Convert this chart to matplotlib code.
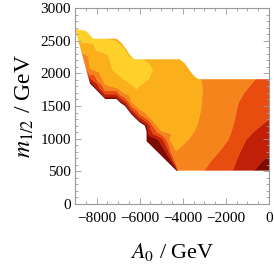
import numpy as np
import matplotlib
matplotlib.use("Agg")
import matplotlib.pyplot as plt
import matplotlib.tri as mtri
from matplotlib.path import Path
from matplotlib.patches import PathPatch
from matplotlib.ticker import MultipleLocator, FuncFormatter

plt.rcParams['mathtext.fontset'] = 'stix'
plt.rcParams['font.family'] = 'serif'
plt.rcParams['font.serif'] = ['Liberation Serif', 'DejaVu Serif']

# ---- region boundary (A0, m1/2) ----
top_x = [-9000, -8490, -8150, -7600, -7070, -6840, -6610, -6450, -6250, -6000, -5840, -5200, -4150, -3900, -3650, -3450, -3250]
top_y = [2680, 2650, 2530, 2530, 2530, 2464, 2362, 2280, 2215, 2215, 2215, 2215, 2215, 2150, 2030, 1950, 1910]
top_v = [5.5, 5.5, 5.45, 5.0, 4.7, 4.7, 4.75, 4.85, 5.05, 5.3, 5.0, 4.7, 4.4, 4.3, 4.2, 4.1, 4.05]

low_x = [-9000, -8300, -7600, -7070, -6900, -6680, -6380, -6000, -5760, -5680, -5680, -5000, -4300]
low_y = [2075, 1841, 1607, 1607, 1550, 1500, 1370, 1250, 1200, 1110, 960, 738, 510]
low_v = [0.2] * len(low_x)

# ---- field samples near the lower edge (level lines 1..4) ----
l1_x = [-9000, -8300, -7600, -7070, -6900, -6680, -6380, -6000, -5760, -5620, -5560, -5141, -4780, -4522, -4260]
l1_y = [2125, 1881, 1637, 1637, 1580, 1530, 1400, 1280, 1230, 1110, 1050, 985, 790, 650, 510]
l2_x = [-9000, -8300, -7600, -7070, -6900, -6680, -6380, -6000, -5760, -5500, -4909, -4640, -4432, -4230]
l2_y = [2175, 1926, 1682, 1682, 1625, 1575, 1445, 1325, 1275, 1150, 985, 790, 650, 510]
l3_x = [-9000, -8300, -7600, -7070, -6900, -6680, -6380, -6000, -5760, -5400, -4755, -4540, -4365, -4200]
l3_y = [2235, 1976, 1732, 1732, 1670, 1625, 1495, 1375, 1325, 1200, 985, 790, 650, 510]
l4_x = [-9000, -8300, -7600, -7070, -6680, -6380, -6000, -5760, -5400, -5000, -4600, -4300]
l4_y = [2345, 2076, 1830, 1775, 1690, 1565, 1450, 1400, 1280, 1120, 985, 810]

# ---- interior field samples, by rows of constant m1/2 ----
rows_y = [510, 650, 800, 980, 1110, 1250, 1400, 1550, 1700, 1800, 1910, 2050, 2130, 2215, 2290, 2350, 2450, 2580]
rows_x = [
    [-3700, -3000, -2350, -1680, -1180, -680, 0],
    [-4000, -2713, -2100, -1528, -900, -330, 0],
    [-4150, -3300, -2307, -1800, -1334, -700, 0],
    [-4200, -3750, -2800, -1893, -1450, -1066, -500, 0],
    [-4400, -3465, -2500, -1745, -1150, -705, 0],
    [-4500, -3298, -2450, -1619, -900, -172, 0],
    [-5000, -3187, -2350, -1523, -700, 0],
    [-5500, -4300, -3120, -2250, -1412, -700, 0],
    [-6300, -6000, -5400, -4300, -3090, -2200, -1150, -550, 0],
    [-6900, -6253, -6150, -6042, -5000, -4000, -3102, -2100, -909, 0],
    [-7400, -6735, -6150, -5591, -4700, -3800, -3150, -1900, -620, 0],
    [-7800, -7244, -6500, -5400, -4700, -4000],
    [-7900, -7325, -6500, -5540, -4800, -4200],
    [-8000, -7389, -6800],
    [-8200, -7479, -7000, -6700],
    [-8600, -8019, -7300, -6800],
    [-8500, -8140, -7600, -7100],
    [-8700],
]
rows_v = [
    [3.5, 3.0, 2.5, 2.0, 1.5, 1.0, 0.4],
    [3.6, 3.0, 2.5, 2.0, 1.5, 1.0, 0.8],
    [3.9, 3.6, 3.0, 2.5, 2.0, 1.5, 1.13],
    [4.25, 4.0, 3.5, 3.0, 2.5, 2.0, 1.72, 1.45],
    [4.45, 4.0, 3.5, 3.0, 2.5, 2.0, 1.68],
    [4.5, 4.0, 3.5, 3.0, 2.5, 2.0, 1.93],
    [4.6, 4.0, 3.5, 3.0, 2.55, 2.18],
    [4.7, 4.5, 4.0, 3.5, 3.0, 2.6, 2.42],
    [4.85, 4.9, 4.75, 4.5, 4.0, 3.5, 3.0, 2.75, 2.53],
    [4.8, 5.0, 5.05, 5.0, 4.7, 4.45, 4.0, 3.5, 3.0, 2.66],
    [4.6, 5.0, 5.4, 5.0, 4.6, 4.3, 4.0, 3.5, 3.0, 2.8],
    [4.5, 5.0, 5.5, 5.0, 4.65, 4.45],
    [4.55, 5.0, 5.55, 5.0, 4.7, 4.45],
    [4.6, 5.0, 5.5],
    [4.6, 5.0, 5.5, 5.3],
    [4.55, 5.0, 5.5, 5.35],
    [4.88, 5.0, 5.4, 5.25],
    [5.5],
]
edge_x = [-9000]
edge_y = [2474]
edge_v = [5.0]

levels = [0, 1, 2, 3, 4, 5, 6]
band_colors = ['#7d0a03', '#c21f08', '#e84c0e', '#f6841d', '#fbb01b', '#fed12a']

# ---- assemble samples ----
px, py, pv = [], [], []
def add(xs, ys, vs):
    px.extend(xs); py.extend(ys); pv.extend(vs)

add(top_x, top_y, top_v)
add(low_x, low_y, low_v)
add(l1_x, l1_y, [1.0] * len(l1_x))
add(l2_x, l2_y, [2.0] * len(l2_x))
add(l3_x, l3_y, [3.0] * len(l3_x))
add(l4_x, l4_y, [4.0] * len(l4_x))
for yy, xs, vs in zip(rows_y, rows_x, rows_v):
    add(xs, [yy] * len(xs), vs)
add(edge_x, edge_y, edge_v)

px = np.array(px, float); py = np.array(py, float); pv = np.array(pv, float)

fig = plt.figure(figsize=(2.74, 2.66), dpi=100)
ax = fig.add_axes([75/274, 1-204/266, 194/274, 196/266])

t0 = mtri.Triangulation((px + 9000) / 9000 * 194, py / 3000 * 196)
tri = mtri.Triangulation(px, py, t0.triangles)

cs = ax.tricontourf(tri, pv, levels=levels, colors=band_colors, antialiased=True)
cs.set_edgecolor('face')
cs.set_linewidth(0.3)

poly_x = top_x + [0, 0] + low_x[::-1]
poly_y = top_y + [1910, 510] + low_y[::-1]
clip = PathPatch(Path(np.column_stack([poly_x, poly_y]), closed=True),
                 transform=ax.transData, facecolor='none', edgecolor='none')
ax.add_patch(clip)
cs.set_clip_path(clip)

ax.set_xlim(-9000, 0)
ax.set_ylim(0, 3000)
ax.xaxis.set_major_locator(MultipleLocator(2000))
ax.xaxis.set_minor_locator(MultipleLocator(500))
ax.yaxis.set_major_locator(MultipleLocator(500))
ax.yaxis.set_minor_locator(MultipleLocator(100))
frame_c = '#9a9a9a'
for s in ax.spines.values():
    s.set_color(frame_c)
    s.set_linewidth(0.8)
ax.tick_params(which='both', direction='in', top=True, right=True, color=frame_c,
               labelsize=11, labelcolor='black', width=0.6)
ax.tick_params(which='major', length=4)
ax.tick_params(axis='x', which='major', pad=6)
ax.tick_params(axis='y', which='major', pad=3)
ax.tick_params(which='minor', length=2)
ax.xaxis.set_major_formatter(FuncFormatter(
    lambda v, p: ('\u2212%d' % abs(v)) if v < 0 else '%d' % v))

ax.set_xlabel(r'$A_0$ / GeV', fontsize=16, labelpad=11)
ax.set_ylabel(r'$m_{1/2}$ / GeV', fontsize=17, labelpad=3)

fig.savefig('out.png', dpi=100)
